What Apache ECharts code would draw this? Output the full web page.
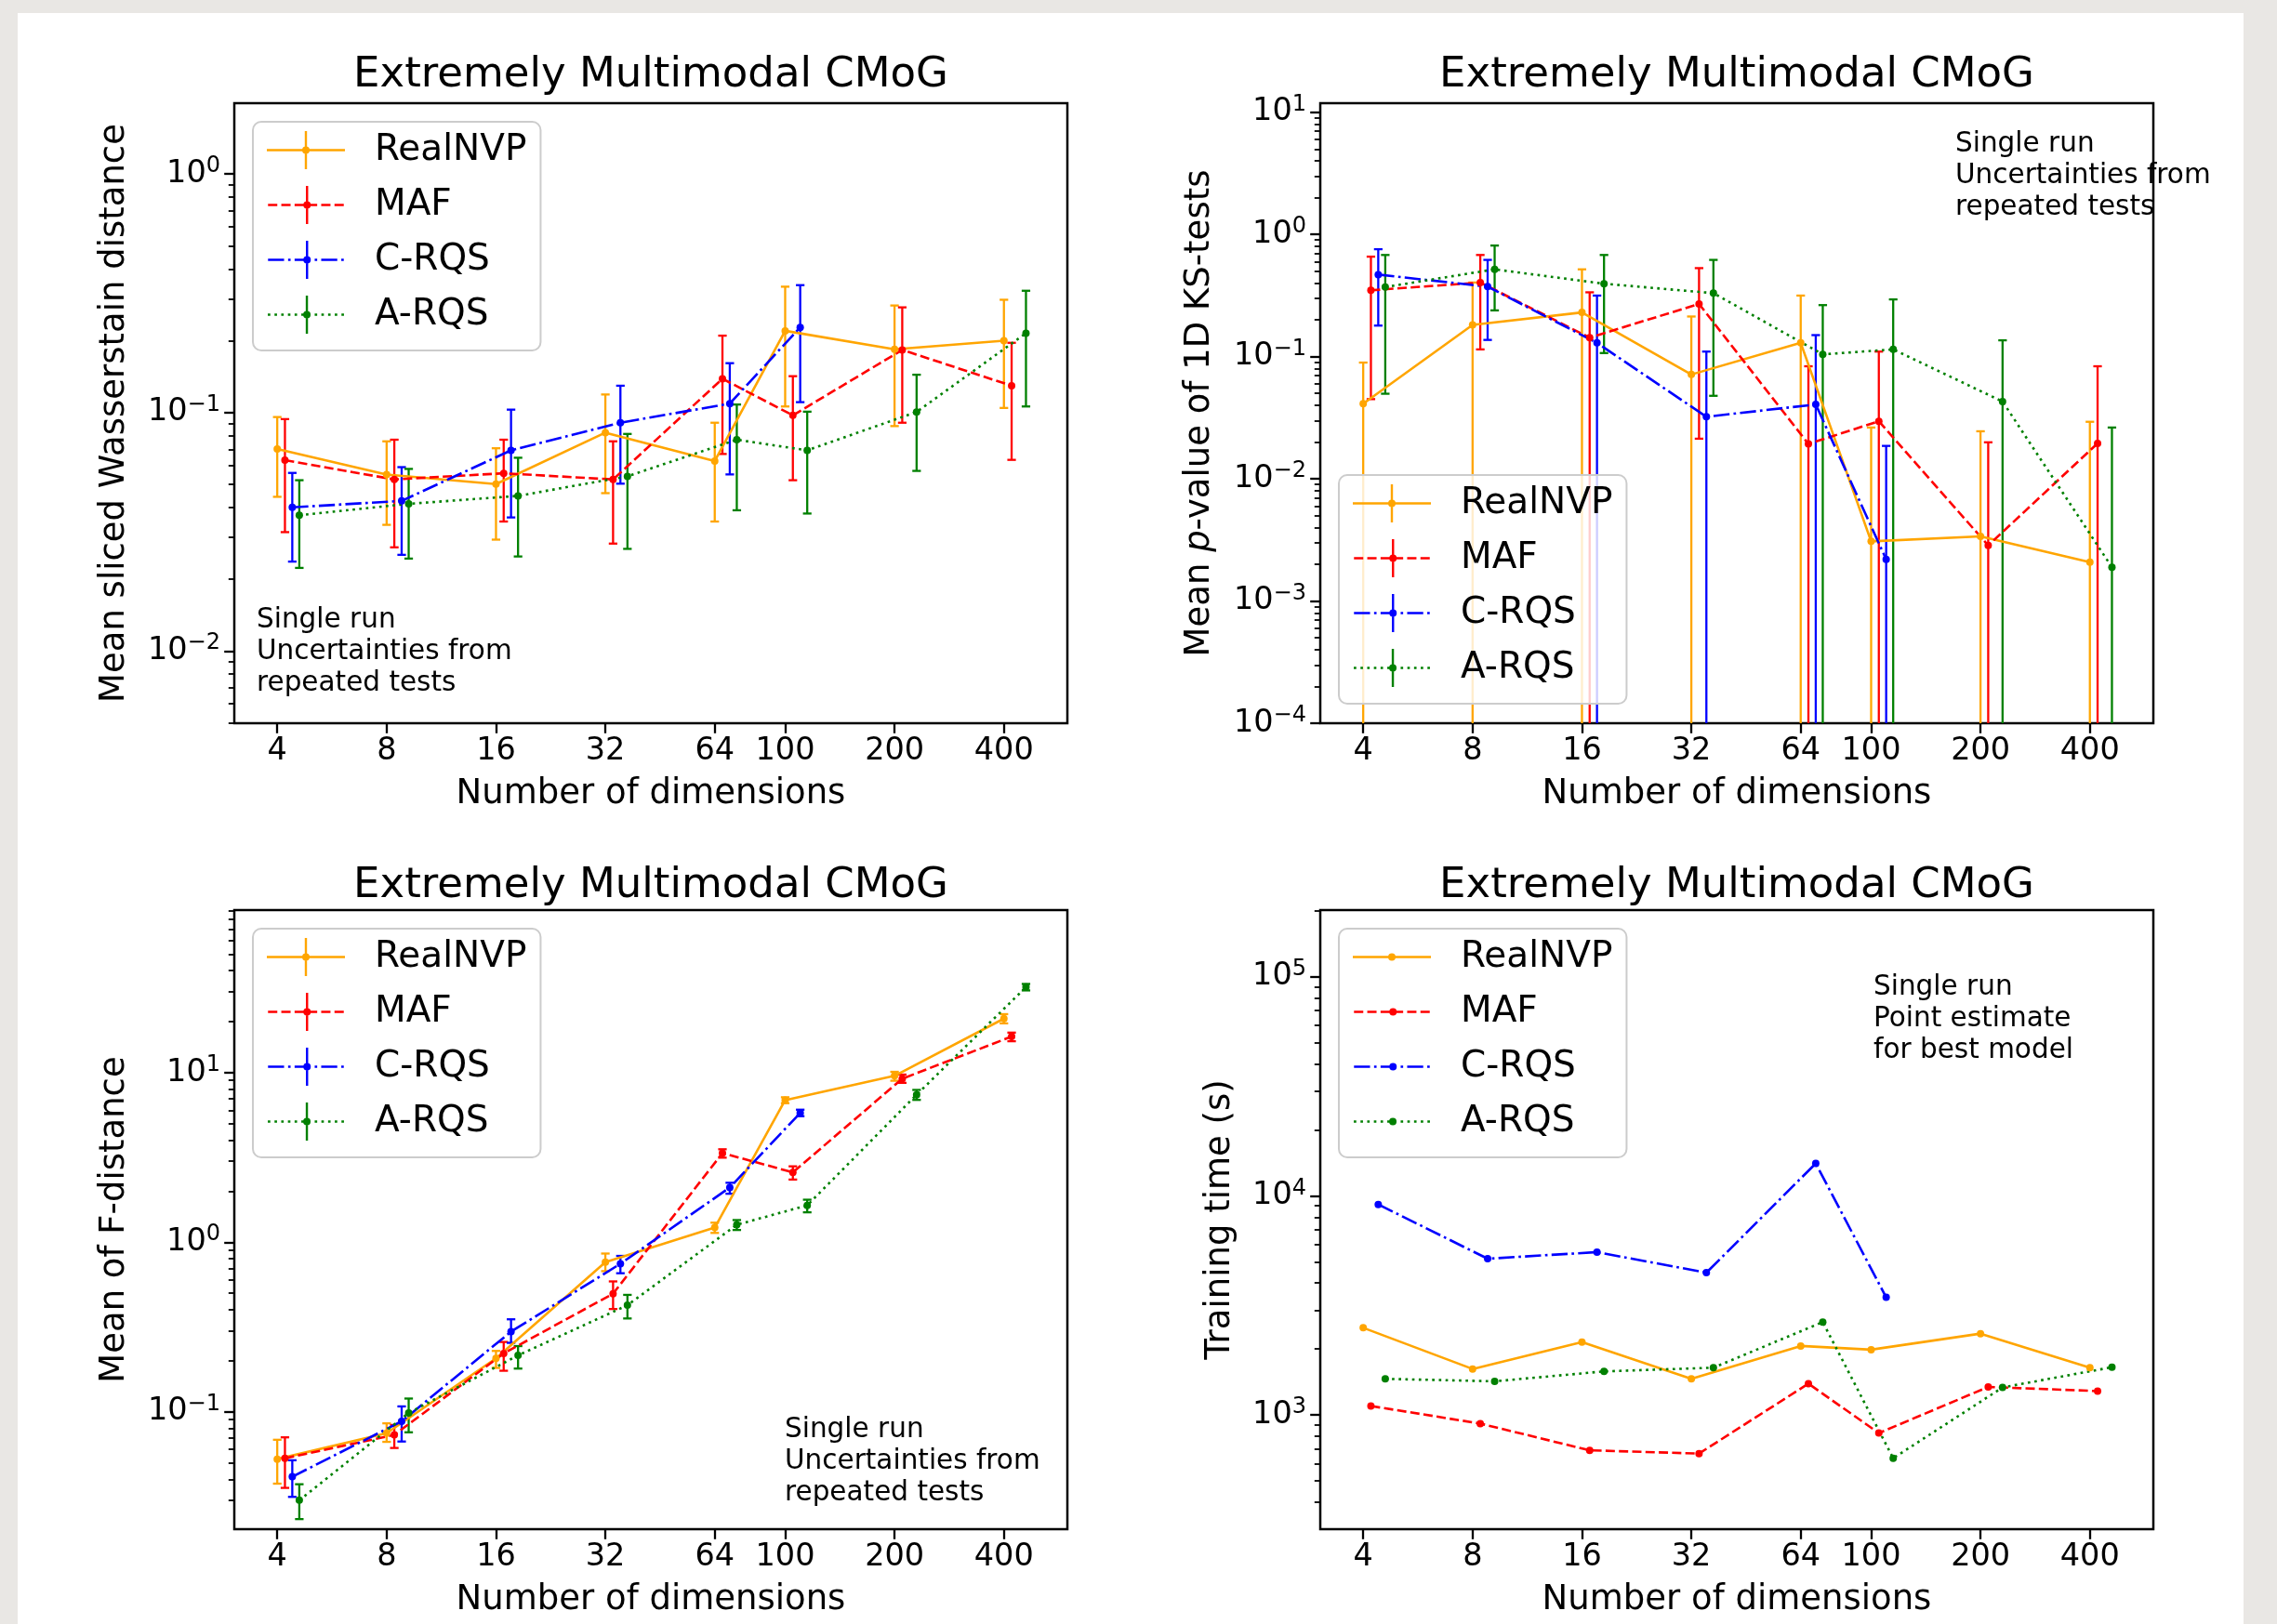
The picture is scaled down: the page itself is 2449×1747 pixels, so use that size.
<!DOCTYPE html>
<html>
<head>
<meta charset="utf-8">
<title>Extremely Multimodal CMoG</title>
<script src="https://cdn.jsdelivr.net/npm/echarts@6/dist/echarts.min.js"></script>
<style>
  html, body { margin: 0; padding: 0; background: #e9e7e4; }
  #sheet { position: absolute; left: 19px; top: 14px; width: 2394px; height: 1733px; background: #ffffff; }
  #chart { position: absolute; left: 0; top: 0; width: 2449px; height: 1747px; }
</style>
</head>
<body>
<div id="sheet"></div>
<div id="chart"></div>
<script>
// ---- shared categories ----
const dims = [4, 8, 16, 32, 64, 100, 200, 400];
const xTickLabels = [4, 8, 16, 32, 64, 100, 200, 400];
const models = ['RealNVP', 'MAF', 'C-RQS', 'A-RQS'];
const xShift = [1.0, 1.05, 1.1, 1.15];   // small horizontal offset per model

// ---- mean sliced Wasserstein distance ----
const swdRealNVP   = [0.0703, 0.0549, 0.0501, 0.0823, 0.0626, 0.220, 0.184, 0.200];
const swdRealNVPLo = [0.0443, 0.0338, 0.0293, 0.0459, 0.0349, 0.106, 0.0877, 0.1045];
const swdRealNVPHi = [0.0957, 0.0757, 0.0708, 0.119, 0.0906, 0.337, 0.281, 0.297];
const swdMAF   = [0.0631, 0.0524, 0.0556, 0.0524, 0.1385, 0.0973, 0.183, 0.1295];
const swdMAFLo = [0.0315, 0.0272, 0.0349, 0.0282, 0.067, 0.052, 0.0906, 0.0633];
const swdMAFHi = [0.0938, 0.0769, 0.0769, 0.0757, 0.21, 0.142, 0.276, 0.196];
const swdCRQS   = [0.040, 0.0426, 0.0694, 0.0906, 0.109, 0.2275];
const swdCRQSLo = [0.0237, 0.0253, 0.0363, 0.0503, 0.055, 0.1105];
const swdCRQSHi = [0.0558, 0.059, 0.1028, 0.1295, 0.161, 0.342];
const swdARQS   = [0.0371, 0.0414, 0.0447, 0.054, 0.0769, 0.0694, 0.1005, 0.215];
const swdARQSLo = [0.0223, 0.0244, 0.0249, 0.0268, 0.0389, 0.0377, 0.0569, 0.106];
const swdARQSHi = [0.052, 0.058, 0.0646, 0.0813, 0.108, 0.1008, 0.144, 0.324];

// ---- mean p-value of 1D KS tests (0 = lower bound below zero) ----
const ksRealNVP   = [0.0412, 0.182, 0.23, 0.0714, 0.1296, 0.00308, 0.00338, 0.00208];
const ksRealNVPLo = [0, 0, 0, 0, 0, 0, 0, 0];
const ksRealNVPHi = [0.0894, 0.404, 0.518, 0.213, 0.316, 0.0263, 0.0245, 0.0293];
const ksMAF   = [0.349, 0.404, 0.143, 0.27, 0.0193, 0.0296, 0.00285, 0.0195];
const ksMAFLo = [0.0449, 0.1146, 0, 0.0213, 0, 0, 0, 0];
const ksMAFHi = [0.658, 0.679, 0.336, 0.530, 0.0834, 0.110, 0.0199, 0.0834];
const ksCRQS   = [0.469, 0.374, 0.1296, 0.0322, 0.0406, 0.00219];
const ksCRQSLo = [0.1795, 0.137, 0, 0, 0, 0];
const ksCRQSHi = [0.757, 0.619, 0.316, 0.110, 0.150, 0.0186];
const ksARQS   = [0.371, 0.518, 0.395, 0.331, 0.1043, 0.1146, 0.0429, 0.00189];
const ksARQSLo = [0.0497, 0.239, 0.107, 0.0478, 0, 0, 0, 0];
const ksARQSHi = [0.679, 0.811, 0.679, 0.619, 0.264, 0.294, 0.136, 0.0263];

// ---- mean of F-distance ----
const fdRealNVP   = [0.0526, 0.0748, 0.2065, 0.762, 1.219, 6.88, 9.57, 20.8];
const fdRealNVPLo = [0.0377, 0.0665, 0.1815, 0.675, 1.134, 6.6, 8.95, 19.5];
const fdRealNVPHi = [0.0684, 0.0855, 0.2285, 0.857, 1.303, 7.15, 10.1, 22.1];
const fdMAF   = [0.0532, 0.0731, 0.221, 0.497, 3.35, 2.58, 9.2, 16.3];
const fdMAFLo = [0.0356, 0.0612, 0.1746, 0.4036, 3.15, 2.34, 8.7, 15.3];
const fdMAFHi = [0.0707, 0.0836, 0.258, 0.587, 3.53, 2.8, 9.73, 17.2];
const fdCRQS   = [0.0414, 0.0879, 0.297, 0.746, 2.10, 5.78];
const fdCRQSLo = [0.0315, 0.0668, 0.255, 0.656, 1.93, 5.53];
const fdCRQSHi = [0.0518, 0.1076, 0.351, 0.83, 2.24, 6.04];
const fdARQS   = [0.0301, 0.0984, 0.215, 0.425, 1.267, 1.648, 7.40, 31.9];
const fdARQSLo = [0.0233, 0.0757, 0.1798, 0.355, 1.18, 1.50, 6.9, 30.5];
const fdARQSHi = [0.0374, 0.1197, 0.244, 0.489, 1.35, 1.78, 7.9, 33.3];

// ---- training time (s) ----
const timeRealNVP = [2500, 1622, 2149, 1462, 2066, 1987, 2351, 1644];
const timeMAF     = [1099, 914, 690, 667, 1390, 827, 1343, 1286];
const timeCRQS    = [9140, 5167, 5537, 4460, 14060, 3443];
const timeARQS    = [1462, 1425, 1581, 1644, 2655, 635, 1336, 1652];

// ---- styling ----
const FONT = 'DejaVu Sans';
const colors = ['#ffa500', '#ff0000', '#0000ff', '#008000'];
const dashes = ['solid', [10, 4.3], [17.3, 4.3, 2.7, 4.3], [2.7, 4.5]];
const LINE_W = 2.6;
const X_MIN = 3.047, X_MAX = 598;
const lg = Math.log10;

const panels = [
  {
    grid: { left: 252, top: 111, width: 896, height: 667 },
    yMin: 0.004977, yMax: 1.982,
    yName: 'Mean sliced Wasserstain distance', yGap: 110, titleOff: 52,
    mean: [swdRealNVP, swdMAF, swdCRQS, swdARQS],
    lo: [swdRealNVPLo, swdMAFLo, swdCRQSLo, swdARQSLo],
    hi: [swdRealNVPHi, swdMAFHi, swdCRQSHi, swdARQSHi],
    legend: { left: 272, top: 131 },
    note: { x: 276, y: 650, text: 'Single run\nUncertainties from\nrepeated tests' }
  },
  {
    grid: { left: 1420, top: 111, width: 896, height: 667 },
    yMin: 1e-4, yMax: 11.86,
    yName: '{a|Mean }{i|p}{a|-value of 1D KS-tests}', yGap: 111, titleOff: 52,
    mean: [ksRealNVP, ksMAF, ksCRQS, ksARQS],
    lo: [ksRealNVPLo, ksMAFLo, ksCRQSLo, ksARQSLo],
    hi: [ksRealNVPHi, ksMAFHi, ksCRQSHi, ksARQSHi],
    legend: { left: 1440, top: 511 },
    note: { x: 2103, y: 138, text: 'Single run\nUncertainties from\nrepeated tests' }
  },
  {
    grid: { left: 252, top: 979, width: 896, height: 666 },
    yMin: 0.02032, yMax: 90.78,
    yName: 'Mean of F-distance', yGap: 110, titleOff: 48,
    mean: [fdRealNVP, fdMAF, fdCRQS, fdARQS],
    lo: [fdRealNVPLo, fdMAFLo, fdCRQSLo, fdARQSLo],
    hi: [fdRealNVPHi, fdMAFHi, fdCRQSHi, fdARQSHi],
    legend: { left: 272, top: 999 },
    note: { x: 844, y: 1521, text: 'Single run\nUncertainties from\nrepeated tests' }
  },
  {
    grid: { left: 1420, top: 979, width: 896, height: 666 },
    yMin: 301.3, yMax: 201400,
    yName: 'Training time (s)', yGap: 89, titleOff: 48,
    mean: [timeRealNVP, timeMAF, timeCRQS, timeARQS],
    lo: null, hi: null,
    legend: { left: 1440, top: 999 },
    note: { x: 2015, y: 1045, text: 'Single run\nPoint estimate\nfor best model' }
  }
];

// ---- legend icon paths (line + marker, optional error bar) ----
function rect(x0, y0, x1, y1) {
  return 'M' + x0 + ',' + y0 + 'L' + x1 + ',' + y0 + 'L' + x1 + ',' + y1 + 'L' + x0 + ',' + y1 + 'Z';
}
function legendPath(k, withBar) {
  const W = 84, H = withBar ? 41 : 8, cy = H / 2, hw = 1.3;
  let p = '';
  const segs = {
    0: [[0, 84]],
    1: [[0, 10], [14.3, 24.3], [28.6, 38.6], [42.9, 52.9], [57.2, 67.2], [71.5, 81.5]],
    2: [[0, 17.3], [21.6, 24.3], [28.6, 45.9], [50.2, 52.9], [57.2, 74.5], [78.8, 81.5]],
    3: []
  };
  if (k === 3) for (let x = 0; x + 2.7 <= W; x += 7.2) segs[3].push([x, x + 2.7]);
  segs[k].forEach(s => { p += rect(s[0], cy - hw, s[1], cy + hw); });
  if (withBar) p += rect(42 - 1.2, 0, 42 + 1.2, H);
  p += 'M38,' + cy + 'A4,4 0 1,1 46,' + cy + 'A4,4 0 1,1 38,' + cy + 'Z';
  return 'path://' + p;
}

// ---- error bars drawn through the axis scale ----
function errorBarItem(params, api) {
  const x = api.value(0);
  const top = api.coord([x, api.value(2)]);
  const bot = api.coord([x, api.value(1)]);
  const capLow = api.value(3) === 1;
  const w = 4.6;
  const style = { stroke: api.visual('color'), lineWidth: 2.3, fill: null };
  const children = [
    { type: 'line', shape: { x1: top[0], y1: top[1], x2: bot[0], y2: bot[1] }, style: style },
    { type: 'line', shape: { x1: top[0] - w, y1: top[1], x2: top[0] + w, y2: top[1] }, style: style }
  ];
  if (capLow) children.push({ type: 'line', shape: { x1: bot[0] - w, y1: bot[1], x2: bot[0] + w, y2: bot[1] }, style: style });
  return { type: 'group', children: children };
}

function supLabel(v) {
  const n = Math.round(v);
  return '{b|10}{s|' + (n < 0 ? '\u2212' + (-n) : String(n)) + '}';
}
function decadeTicks(a, b) {
  const out = [];
  for (let n = Math.ceil(a - 1e-9); n <= b + 1e-9; n++) out.push(n);
  return out;
}
function minorTicks(a, b) {
  const out = [];
  for (let n = Math.floor(a) - 1; n <= Math.ceil(b); n++)
    for (let m = 2; m <= 9; m++) {
      const v = n + lg(m);
      if (v > a && v < b) out.push(v);
    }
  return out;
}

const grids = [], xAxes = [], yAxes = [], series = [], legends = [], titles = [], graphics = [];
const xTickVals = xTickLabels.map(v => lg(v));

panels.forEach((p, gi) => {
  grids.push(Object.assign({ show: true, borderColor: '#000', borderWidth: 2.5, backgroundColor: 'transparent', containLabel: false }, p.grid));
  const yLo = lg(p.yMin), yHi = lg(p.yMax);

  xAxes.push({
    type: 'value', gridIndex: gi, position: 'bottom', min: lg(X_MIN), max: lg(X_MAX),
    name: 'Number of dimensions', nameLocation: 'middle', nameGap: 58,
    nameTextStyle: { fontFamily: FONT, fontSize: 37, color: '#000', lineHeight: 37 },
    axisLine: { show: false, onZero: false },
    splitLine: { show: false },
    axisTick: { show: true, customValues: xTickVals, length: 10.8, lineStyle: { color: '#000', width: 2.3 } },
    axisLabel: { show: true, customValues: xTickVals, margin: 13, fontFamily: FONT, fontSize: 33.5, color: '#000',
      formatter: v => String(Math.round(Math.pow(10, v))) }
  });

  const yNameStyle = { fontFamily: FONT, fontSize: 37, color: '#000', lineHeight: 37 };
  if (gi === 1) yNameStyle.rich = {
    a: { fontFamily: FONT, fontSize: 37, color: '#000' },
    i: { fontFamily: FONT, fontSize: 37, color: '#000', fontStyle: 'italic' }
  };
  yAxes.push({
    type: 'value', gridIndex: gi, position: 'left', min: yLo, max: yHi,
    name: p.yName, nameLocation: 'middle', nameRotate: 90, nameGap: p.yGap,
    nameTextStyle: yNameStyle,
    axisLine: { show: false, onZero: false },
    splitLine: { show: false },
    axisTick: { show: true, customValues: decadeTicks(yLo, yHi), length: 10.8, lineStyle: { color: '#000', width: 2.3 } },
    axisLabel: { show: true, customValues: decadeTicks(yLo, yHi), margin: 15, formatter: supLabel,
      rich: {
        b: { fontFamily: FONT, fontSize: 33.5, color: '#000', lineHeight: 40 },
        s: { fontFamily: FONT, fontSize: 24, color: '#000', lineHeight: 24, verticalAlign: 'top' }
      } }
  });
  // minor ticks on the same side
  yAxes.push({
    type: 'value', gridIndex: gi, position: 'left', min: yLo, max: yHi,
    axisLine: { show: false, onZero: false }, splitLine: { show: false },
    axisTick: { show: true, customValues: minorTicks(yLo, yHi), length: 6.2, lineStyle: { color: '#000', width: 1.8 } },
    axisLabel: { show: false }
  });
  const yIdx = gi * 2;

  const withBar = !!p.lo;
  models.forEach((name, k) => {
    const mean = p.mean[k];
    if (withBar) {
      const lo = p.lo[k], hi = p.hi[k];
      series.push({
        type: 'custom', name: name + ' error', xAxisIndex: gi, yAxisIndex: yIdx,
        renderItem: errorBarItem, itemStyle: { color: colors[k] },
        encode: { x: 0, y: [1, 2] }, silent: true, z: 2,
        data: mean.map((m, i) => {
          const clipped = !(lo[i] > 0);
          return [lg(dims[i] * xShift[k]), clipped ? yLo : lg(lo[i]), lg(hi[i]), clipped ? 0 : 1];
        })
      });
    }
    series.push({
      type: 'line', name: name, xAxisIndex: gi, yAxisIndex: yIdx, z: 2,
      symbol: 'circle', symbolSize: 8, showSymbol: true,
      itemStyle: { color: colors[k] },
      lineStyle: { color: colors[k], width: LINE_W, type: dashes[k] },
      emphasis: { disabled: true },
      data: mean.map((m, i) => [lg(dims[i] * xShift[k]), lg(m)])
    });
  });

  legends.push({
    left: p.legend.left, top: p.legend.top, orient: 'vertical',
    itemWidth: 84, itemHeight: withBar ? 41 : 8, itemGap: 18,
    padding: [10, 15, 18, 15],
    backgroundColor: 'rgba(255,255,255,0.8)', borderColor: '#cccccc', borderWidth: 2, borderRadius: 9,
    selectedMode: false,
    textStyle: { fontFamily: FONT, fontSize: 39, lineHeight: 41, color: '#000', padding: [0, 0, 0, 27] },
    data: models.map((name, k) => ({
      name: name, icon: legendPath(k, withBar),
      itemStyle: { color: colors[k], borderWidth: 0 }
    }))
  });

  titles.push({
    text: 'Extremely Multimodal CMoG',
    left: p.grid.left + p.grid.width / 2, top: p.grid.top - p.titleOff, textAlign: 'center', padding: 0,
    textStyle: { fontFamily: FONT, fontSize: 45, fontWeight: 'normal', color: '#000', lineHeight: 45 }
  });

  graphics.push({
    type: 'text', x: p.note.x, y: p.note.y, z: 10,
    style: { text: p.note.text, fontFamily: FONT, fontSize: 29.5, lineHeight: 34, fill: '#000',
      textAlign: 'left', textVerticalAlign: 'top' }
  });
});

const chart = echarts.init(document.getElementById('chart'), null, { renderer: 'canvas' });
chart.setOption({
  backgroundColor: 'transparent',
  animation: false,
  textStyle: { fontFamily: FONT },
  title: titles,
  grid: grids,
  xAxis: xAxes,
  yAxis: yAxes,
  legend: legends,
  series: series,
  graphic: graphics
});
</script>
</body>
</html>
